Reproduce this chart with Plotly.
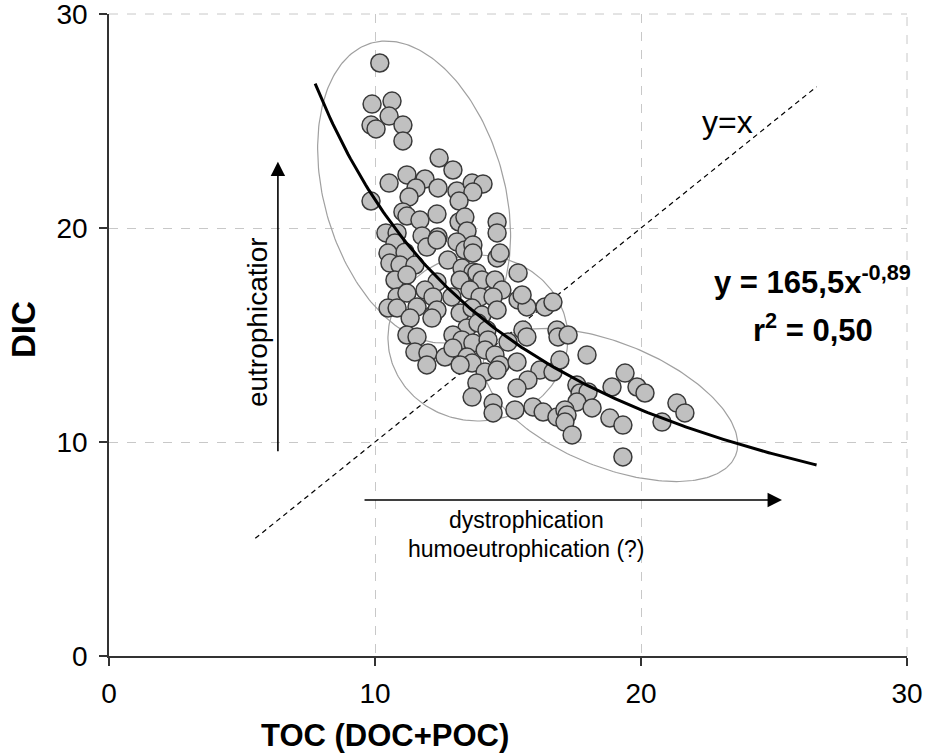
import numpy as np
import plotly.graph_objects as go

# ---- data ----
toc = [10.18, 9.89, 10.64, 10.53, 9.85, 10.04, 11.05, 11.05, 12.41, 12.93,
       10.53, 11.20, 11.88, 11.54, 12.37, 13.08, 13.65, 14.06, 13.68, 9.85,
       11.28, 13.16, 11.05, 11.20, 11.69, 12.33, 13.16, 13.38, 14.59, 14.59,
       13.46, 10.41, 10.83, 11.77, 12.37, 10.75, 11.95, 12.33, 13.08, 13.38,
       13.68, 10.49, 11.13, 10.56, 10.94, 11.50, 12.74, 13.27, 13.68, 13.68,
       14.59, 14.70, 10.75, 11.20, 12.33, 13.20, 13.83, 14.02, 14.51, 14.77,
       15.38, 10.83, 11.20, 11.88, 12.18, 12.89, 13.57, 13.95, 14.44, 15.38,
       15.71, 16.39, 16.69, 10.49, 10.83, 11.58, 12.18, 12.33, 13.20, 13.65,
       14.02, 14.59, 11.32, 12.14, 13.46, 13.87, 14.21, 15.56, 16.84, 11.20,
       11.58, 12.93, 13.27, 13.68, 14.25, 15.00, 15.71, 16.88, 11.50, 11.99,
       12.63, 12.93, 13.46, 13.65, 14.14, 14.51, 14.70, 15.34, 16.20, 16.69,
       11.95, 13.20, 14.14, 14.59, 15.75, 13.83, 15.34, 13.65, 14.44, 14.44,
       15.26, 15.94, 16.32, 16.84, 15.53, 17.26, 16.95, 17.97, 17.59, 17.71,
       18.01, 17.59, 18.16, 18.91, 19.40, 19.85, 20.15, 17.14, 17.22, 17.14,
       17.41, 18.83, 19.32, 20.79, 21.35, 21.65, 19.32]
dic = [27.71, 25.79, 25.93, 25.23, 24.81, 24.63, 24.81, 24.07, 23.27, 22.71,
       22.10, 22.48, 22.29, 21.87, 21.87, 21.73, 22.10, 22.06, 21.68, 21.26,
       21.45, 21.26, 20.75, 20.56, 20.37, 20.65, 20.28, 20.51, 20.28, 19.77,
       19.86, 19.77, 19.77, 19.63, 19.58, 19.30, 19.11, 19.44, 19.35, 18.97,
       19.21, 18.83, 18.87, 18.36, 18.27, 18.27, 18.50, 18.13, 18.83, 17.94,
       18.60, 18.83, 17.57, 17.80, 17.48, 17.57, 17.90, 17.57, 17.57, 17.10,
       17.90, 16.78, 16.96, 17.10, 16.78, 16.78, 17.10, 16.78, 16.78, 16.64,
       16.31, 16.31, 16.54, 16.26, 16.26, 16.31, 15.93, 16.17, 16.03, 16.26,
       15.93, 16.17, 15.79, 15.79, 15.33, 15.56, 15.23, 15.23, 15.23, 15.00,
       14.91, 15.00, 14.77, 14.63, 14.77, 14.67, 14.91, 14.91, 14.21, 14.16,
       13.97, 14.39, 13.97, 13.69, 14.30, 14.07, 13.60, 13.74, 13.36, 13.27,
       13.60, 13.60, 13.27, 13.36, 12.90, 12.76, 12.52, 12.10, 11.82, 11.36,
       11.50, 11.64, 11.40, 11.17, 16.87, 15.00, 13.83, 14.07, 12.66, 12.29,
       12.34, 11.87, 11.59, 12.57, 13.22, 12.57, 12.29, 11.50, 11.26, 10.93,
       10.33, 11.12, 10.79, 10.93, 11.82, 11.36, 9.30]

# power fit shown on the chart: y = 165.5 * x^-0.89
fit_a = 165.5
fit_b = -0.89
fit_x_range = (7.75, 26.6)
identity_range = (5.5, 26.6)

x_ticks = [0, 10, 20, 30]
y_ticks = [0, 10, 20, 30]

# ---- layout geometry ----
W, H = 926, 753
ML, MR, MT, MB = 109, 19, 14, 97
PW, PH = W - ML - MR, H - MT - MB
PXX = PW / 30.0   # px per x unit
PXY = PH / 30.0   # px per y unit


def ellipse(cx, cy, a, b, ang):
    t = np.linspace(0, 2 * np.pi, 240)
    th = np.deg2rad(ang)
    dx = a * np.cos(t) * np.cos(th) - b * np.sin(t) * np.sin(th)
    dy = a * np.cos(t) * np.sin(th) + b * np.sin(t) * np.cos(th)
    return cx + dx / PXX, cy - dy / PXY


fig = go.Figure()

# ellipses (grey outlines): centre (data), semi-axes (px), tilt (deg)
for (cx, cy, a, b, ang) in [(11.47, 21.68, 155, 90, 74),
                            (13.87, 14.86, 90, 83, 0),
                            (18.85, 11.73, 135, 62, 22)]:
    ex, ey = ellipse(cx, cy, a, b, ang)
    fig.add_trace(go.Scatter(x=ex, y=ey, mode="lines",
                             line=dict(color="#a0a0a0", width=1.2),
                             hoverinfo="skip", showlegend=False))

# y = x line
fig.add_trace(go.Scatter(x=list(identity_range), y=list(identity_range), mode="lines",
                         line=dict(color="black", width=1.2, dash="5px,4px"),
                         showlegend=False))

# points
fig.add_trace(go.Scatter(x=toc, y=dic, mode="markers",
                         marker=dict(size=18, color="#c0c0c0",
                                     line=dict(color="#3a3a3a", width=1.5)),
                         showlegend=False))

# fit curve
xf = np.linspace(fit_x_range[0], fit_x_range[1], 200)
fig.add_trace(go.Scatter(x=xf, y=fit_a * xf ** fit_b, mode="lines",
                         line=dict(color="black", width=3), showlegend=False))

font_family = "Liberation Sans, Arial, sans-serif"


def txt(size):
    return dict(size=size, color="black", family=font_family)


annotations = [
    # arrows
    dict(x=6.35, y=23.1, ax=6.35, ay=9.5, xref="x", yref="y", axref="x", ayref="y",
         text="", showarrow=True, arrowhead=2, arrowsize=1.8, arrowwidth=1.6, arrowcolor="black"),
    dict(x=25.3, y=7.29, ax=9.55, ay=7.29, xref="x", yref="y", axref="x", ayref="y",
         text="", showarrow=True, arrowhead=2, arrowsize=1.8, arrowwidth=1.6, arrowcolor="black"),
    dict(x=5.56, y=15.6, xref="x", yref="y", text="eutrophicatior", textangle=-90,
         showarrow=False, font=txt(28)),
    dict(x=15.71, y=6.36, xref="x", yref="y", text="dystrophication",
         showarrow=False, font=txt(23)),
    dict(x=15.71, y=5.0, xref="x", yref="y", text="humoeutrophication (?)",
         showarrow=False, font=txt(23)),
    dict(x=23.27, y=24.95, xref="x", yref="y", text="y=x",
         showarrow=False, font=txt(32)),
    dict(x=26.45, y=17.55, xref="x", yref="y", text="<b>y = 165,5x<sup>-0,89</sup></b>",
         showarrow=False, font=txt(31)),
    dict(x=26.45, y=15.33, xref="x", yref="y", text="<b>r<sup>2</sup> = 0,50</b>",
         showarrow=False, font=txt(31)),
    # axis titles (page-pixel centres converted to paper coords below)
    dict(x=385, y=735, xref="paper", yref="paper", text="<b>TOC (DOC+POC)</b>",
         showarrow=False, font=txt(31)),
    dict(x=23, y=330, xref="paper", yref="paper", text="<b>DIC</b>", textangle=-90,
         showarrow=False, font=txt(33)),
]

for an in annotations:
    an["xanchor"] = "center"
    an["yanchor"] = "middle"
    if an.get("xref") == "paper":
        an["x"] = (an["x"] - ML) / PW
        an["y"] = 1 - (an["y"] - MT) / PH

fig.update_layout(
    width=W, height=H,
    margin=dict(l=ML, r=MR, t=MT, b=MB, pad=0, autoexpand=False),
    plot_bgcolor="white", paper_bgcolor="white",
    font=dict(family=font_family, color="black"),
    annotations=annotations,
    showlegend=False,
    shapes=[
        dict(type="line", xref="paper", yref="paper", x0=0, x1=1, y0=1, y1=1,
             line=dict(color="#c8c8c8", width=1, dash="dash")),
        dict(type="line", xref="paper", yref="paper", x0=1, x1=1, y0=0, y1=1,
             line=dict(color="#c8c8c8", width=1, dash="dash")),
    ],
)

axis_common = dict(range=[0, 30], showgrid=True, gridcolor="#c8c8c8", griddash="dash",
                   gridwidth=1, zeroline=False, showline=True, linecolor="#333333",
                   linewidth=1.5, ticks="outside", ticklen=8, tickcolor="#333333",
                   tickwidth=1.5, tickfont=dict(size=28, color="black"),
                   automargin=False, ticklabeloverflow="allow")
fig.update_xaxes(tickvals=x_ticks, ticktext=[str(v) for v in x_ticks],
                 ticklabelstandoff=4, **axis_common)
fig.update_yaxes(tickvals=y_ticks, ticktext=[str(v) for v in y_ticks],
                 ticklabelstandoff=6, **axis_common)

fig.write_html("out.html",
               config={"displayModeBar": False},
               post_script="document.body.style.margin='0';document.body.style.overflow='hidden';")
